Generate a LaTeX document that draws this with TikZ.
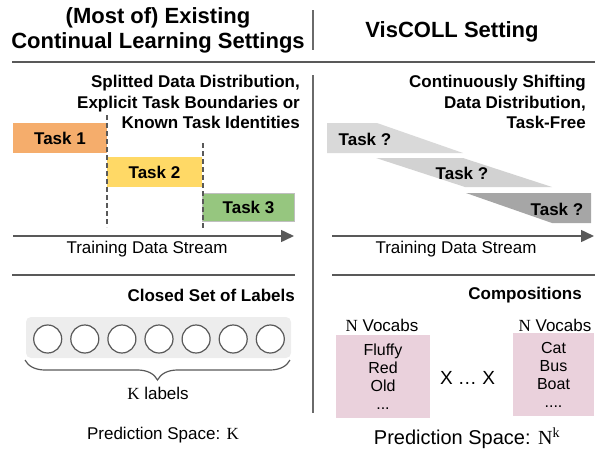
\documentclass[tikz,border=0pt]{standalone}
\usepackage{fontspec}
\setmainfont{Liberation Sans}
\newfontfamily\serif{Liberation Serif}
\usetikzlibrary{arrows.meta,decorations.pathreplacing}
\definecolor{rulegray}{HTML}{595959}
\definecolor{torange}{HTML}{F5AD6C}
\definecolor{tyellow}{HTML}{FFD966}
\definecolor{tgreen}{HTML}{96C67F}
\definecolor{tgreenline}{HTML}{BFBFBF}
\definecolor{qone}{HTML}{D9D9D9}
\definecolor{qtwo}{HTML}{D2D2D2}
\definecolor{qthree}{HTML}{A6A6A6}
\definecolor{setbg}{HTML}{EDEDED}
\definecolor{vocab}{HTML}{EAD1DC}
\begin{document}
\begin{tikzpicture}[x=1pt,y=-1pt,
  title/.style={font=\fontsize{22}{25}\selectfont\bfseries,align=center,inner sep=0},
  subhead/.style={font=\fontsize{17}{20.5}\selectfont\bfseries,align=right,inner sep=0},
  plain/.style={font=\fontsize{17}{20}\selectfont,inner sep=0},
  taskbox/.style={font=\fontsize{17}{20}\selectfont\bfseries,inner sep=0,minimum height=30},
  qtext/.style={font=\fontsize{17}{20}\selectfont\bfseries,inner sep=0},
  bigrule/.style={draw=rulegray,line width=2.5},
  smallrule/.style={draw=rulegray,line width=1.5},
  divider/.style={draw=rulegray!90,line width=1.2},
  boundary/.style={draw=rulegray,line width=1.2,dash pattern=on 5 off 3},
  stream/.style={draw=rulegray,line width=1.5,-{Triangle[length=13,width=12]}},
  label/.style={circle,draw=rulegray,line width=1.2,fill=white,minimum size=28,inner sep=0},
  vocabbox/.style={fill=vocab,inner sep=0,align=center,font=\fontsize{16}{18}\selectfont},
]
\useasboundingbox (0,0) rectangle (595,448);

% titles
\node[title] (tl) at (158,30) {(Most of) Existing\\Continual Learning Settings};
\node[title] (tr) at (452,32) {VisCOLL Setting};

% rules and dividers
\coordinate (r1a) at (12,62); \coordinate (r1b) at (595,62);
\draw[bigrule] (r1a) -- (r1b);
\coordinate (d1a) at (313,10); \coordinate (d1b) at (313,50);
\draw[divider] (d1a) -- (d1b);
\coordinate (d2a) at (313,75); \coordinate (d2b) at (313,413);
\draw[divider] (d2a) -- (d2b);
\coordinate (r2a) at (12,275); \coordinate (r2b) at (295,275);
\draw[smallrule] (r2a) -- (r2b);
\coordinate (r3a) at (332,275); \coordinate (r3b) at (595,275);
\draw[smallrule] (r3a) -- (r3b);

% subheadings
\node[subhead,anchor=east] (sl) at (300,102) {Splitted Data Distribution,\\Explicit Task Boundaries or\\Known Task Identities};
\node[subhead,anchor=east] (sr) at (586,102) {Continuously Shifting\\Data Distribution,\\Task-Free};

% left tasks
\node[taskbox,fill=torange,minimum width=94] (task1) at (60,138) {Task 1};
\node[taskbox,fill=tyellow,minimum width=95] (task2) at (154.5,172) {Task 2};
\node[taskbox,fill=tgreen,draw=tgreenline,line width=1.5,minimum width=92,minimum height=28] (task3) at (248.5,207.5) {Task 3};
\coordinate (b1a) at (107,115); \coordinate (b1b) at (107,227);
\draw[boundary] (b1a) -- (b1b);
\coordinate (b2a) at (203,143); \coordinate (b2b) at (203,228);
\draw[boundary] (b2a) -- (b2b);

% left stream
\coordinate (sa) at (13,236); \coordinate (sb) at (294,236);
\draw[stream] (sa) -- (sb);
\node[plain] (stl) at (147,249) {Training Data Stream};

% right tasks
\fill[qone] (327,123) -- (377,123) -- (463,153) -- (327,153) -- cycle;
\fill[qtwo] (376,158) -- (463,158) -- (552,187) -- (465,187) -- cycle;
\fill[qthree] (466,193) -- (591,193) -- (591,223) -- (552,223) -- cycle;
\node[qtext] (q1) at (365,139) {Task ?};
\node[qtext] (q2) at (462,173) {Task ?};
\node[qtext] (q3) at (557,209) {Task ?};

% right stream
\coordinate (sc) at (332,236); \coordinate (sd) at (594,236);
\draw[stream] (sc) -- (sd);
\node[plain] (str) at (456,249) {Training Data Stream};

% closed set of labels
\node[subhead,anchor=east] (cs) at (295,295) {Closed Set of Labels};
\fill[setbg,rounded corners=5] (26,317) rectangle (291,358);
\foreach \i in {0,...,6} {
  \node[label] (lab\i) at ({47.7+37.1*\i},339) {};
}
\coordinate (bra) at (25,360); \coordinate (brb) at (290,360);
\draw[draw=rulegray,line width=1.2,decorate,decoration={brace,mirror,amplitude=20}] (bra) -- (brb);
\node[plain] (kl) at (158,393) {{\serif K} labels};
\node[plain] (psl) at (163,435) {Prediction Space: {\serif K}};

% compositions
\node[subhead,anchor=east] (comp) at (582,295) {Compositions};
\node[plain] (nv1) at (382,325) {{\serif N} Vocabs};
\node[plain] (nv2) at (555,325) {{\serif N} Vocabs};
\node[vocabbox,minimum width=94,minimum height=83] (vb1) at (383,376.5) {Fluffy\\Red\\Old\\...};
\node[vocabbox,minimum width=81,minimum height=83] (vb2) at (553.5,374.5) {Cat\\Bus\\Boat\\....};
\node[font=\fontsize{19}{22}\selectfont,inner sep=0] (times) at (467.5,378) {X … X};
\node[font=\fontsize{20}{24}\selectfont,inner sep=0] (psr) at (467,438) {Prediction Space: {\serif N}\textsuperscript{\serif k}};
\end{tikzpicture}
\end{document}
